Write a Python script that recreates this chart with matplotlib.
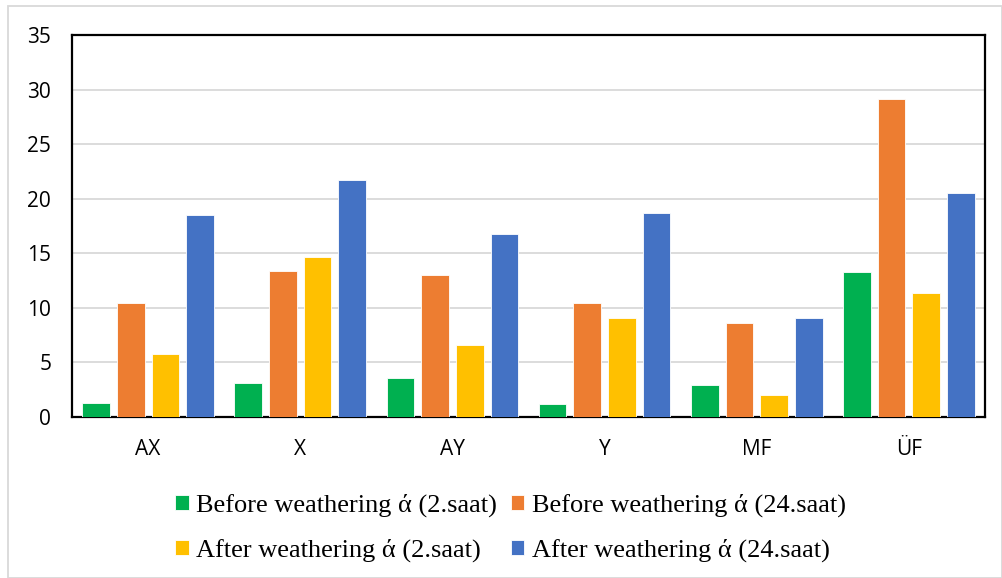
import numpy as np
import matplotlib
matplotlib.use('Agg')
import matplotlib.pyplot as plt
from matplotlib.patches import Rectangle

# data
categories = ['AX', 'X', 'AY', 'Y', 'MF', 'ÜF']
before_2 = [1.3, 3.1, 3.6, 1.2, 2.9, 13.3]
before_24 = [10.4, 13.4, 13.0, 10.4, 8.6, 29.1]
after_2 = [5.8, 14.7, 6.6, 9.1, 2.0, 11.4]
after_24 = [18.5, 21.7, 16.8, 18.7, 9.1, 20.5]

labels = ['Before weathering ά (2.saat)', 'Before weathering ά (24.saat)',
          'After weathering ά (2.saat)', 'After weathering ά (24.saat)']
colors = ['#00B050', '#ED7D31', '#FFC000', '#4472C4']
series = [before_2, before_24, after_2, after_24]

fig = plt.figure(figsize=(10.03, 5.78), dpi=100)
ax = fig.add_axes([72 / 1003, 1 - 417 / 578, (985 - 72) / 1003, (417 - 35) / 578])

x = np.arange(len(categories))
w = 0.182
step = 0.228
handles = []
for i, (vals, c, lab) in enumerate(zip(series, colors, labels)):
    b = ax.bar(x + (i - 1.5) * step, vals, width=w, color=c, label=lab,
               edgecolor='white', linewidth=0.6, zorder=3)
    handles.append(b)

ax.set_xlim(-0.5, len(categories) - 0.5)
ax.set_ylim(0, 35)
ax.set_yticks(range(0, 36, 5))
ax.set_xticks(x)
ax.set_xticklabels(categories, fontsize=15, family='Open Sans')
for t in ax.get_yticklabels():
    t.set_fontsize(15)
    t.set_family('Open Sans')
ax.tick_params(axis='both', length=0)
ax.tick_params(axis='y', pad=15)
ax.tick_params(axis='x', pad=16)
ax.yaxis.grid(True, color='#D9D9D9', linewidth=1.3, zorder=0)
ax.set_axisbelow(True)
for s in ax.spines.values():
    s.set_color('black')
    s.set_linewidth(1.6)

order = [0, 2, 1, 3]
leg = fig.legend([handles[k] for k in order], [labels[k] for k in order],
                 ncol=2, loc='center', bbox_to_anchor=(0.509, 1 - 528 / 578),
                 frameon=False, prop={'family': 'Liberation Serif', 'size': 19},
                 handlelength=0.5, handleheight=0.5, handletextpad=0.3,
                 columnspacing=0.5, labelspacing=0.8)

# outer light border
fig.patches.append(Rectangle((8 / 1003, 0), 994 / 1003, 1 - 6 / 578,
                             transform=fig.transFigure, fill=False,
                             edgecolor='#D9D9D9', linewidth=1.3))

fig.savefig('out.png', dpi=100)
